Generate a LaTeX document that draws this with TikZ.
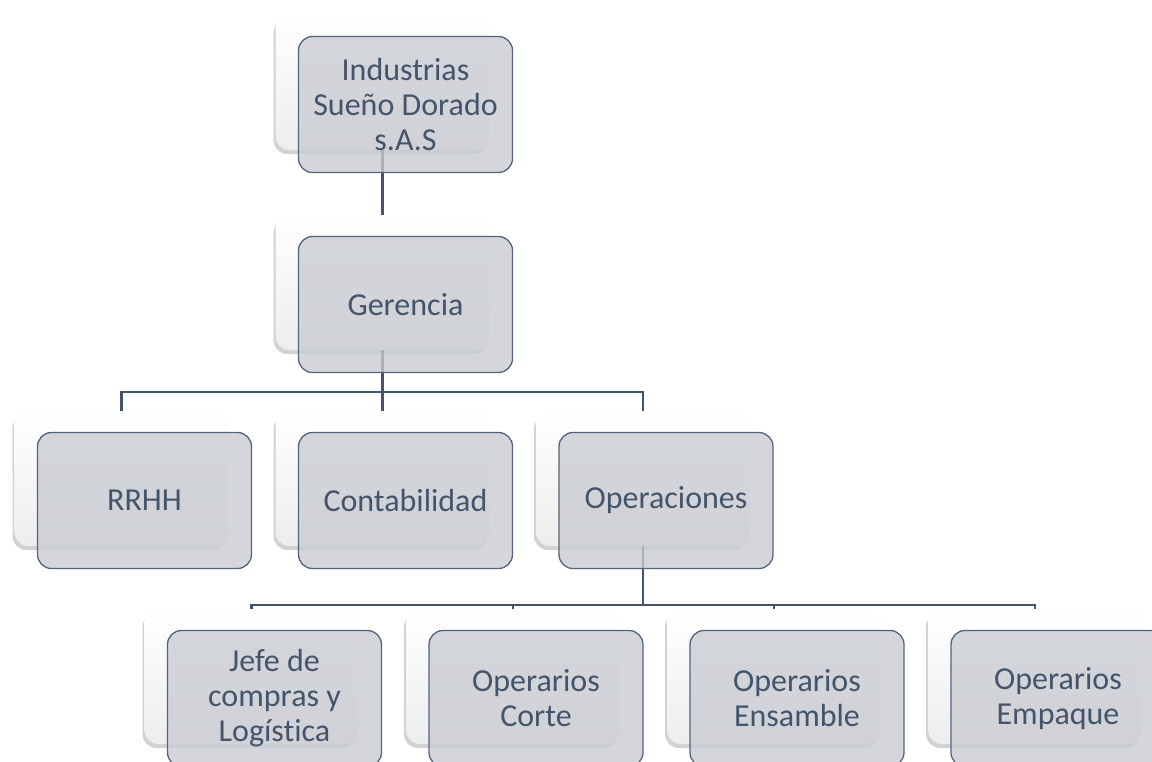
\documentclass[tikz,border=0pt]{standalone}
\usepackage{fontspec}
\setmainfont{Carlito}[Ligatures = NoCommon]
\usepackage{xcolor}
\usetikzlibrary{shadows, calc, backgrounds}
\definecolor{pizarra}{RGB}{68,84,106}
\definecolor{grisfrente}{RGB}{200,203,209}
\definecolor{bordefrente}{RGB}{84,100,124}
\newcommand{\tarjeta}[3]{
\node[fondo] (#1) at (#2) {};
\node[frente] (#1f) at ($(#1)+(23,22)$) {#3};
}

\begin{document}
\begin{tikzpicture}[x = 1pt, y = -1pt,
    fondo/.style = {rounded corners = 14pt, minimum width = 214pt, minimum height = 135pt, inner sep = 0pt,
        top color = white, middle color = white, bottom color = black!7,
        drop shadow = {shadow xshift = -2pt, shadow yshift = -4pt, opacity = 0.22, fill = black!80}},
    frente/.style = {rounded corners = 14pt, minimum width = 214pt, minimum height = 136pt, inner sep = 0pt,
        fill = grisfrente, fill opacity = 0.78, text opacity = 1, draw = bordefrente, line width = 1.3pt,
        text = pizarra, align = center, font = \fontsize{32}{35}\selectfont},
    conector/.style = {draw = pizarra, line width = 2.4pt}]
    % Margini
    \useasboundingbox (0,0) rectangle (1152,761);
    % Parametri
    \pgfmathsetmacro{\filauno}{82.5}
    \pgfmathsetmacro{\filados}{282.5}
    \pgfmathsetmacro{\filatres}{478.5}
    \pgfmathsetmacro{\filacuatro}{676.5}
    % Tarjetas
    \tarjeta{ind}{382.5,\filauno}{Industrias\\Sueño Dorado\\s.A.S}
    \tarjeta{ger}{382.5,\filados}{Gerencia}
    \tarjeta{rrhh}{121.5,\filatres}{RRHH}
    \tarjeta{cont}{382.5,\filatres}{Contabilidad}
    \tarjeta{ops}{643,\filatres}{Operaciones}
    \tarjeta{jefe}{251.5,\filacuatro}{Jefe de\\compras y\\Logística}
    \tarjeta{corte}{513,\filacuatro}{Operarios\\Corte}
    \tarjeta{ens}{774,\filacuatro}{Operarios\\Ensamble}
    \tarjeta{emp}{1035,\filacuatro}{Operarios\\Empaque}
    % Barras
    \coordinate (barra1) at (382.5,392);
    \coordinate (barra2) at (643,605);
    % Conectores
    \begin{scope}[on background layer]
        \draw[conector] (ind.south) -- (ger.north);
        \draw[conector] (ger.south) -- (barra1);
        \draw[conector] (rrhh.north) |- (barra1) -| (ops.north);
        \draw[conector] (cont.north) -- (barra1);
        \draw[conector] (ops.south) -- (barra2);
        \draw[conector] (jefe.north) |- (barra2) -| (emp.north);
        \draw[conector] (corte.north) -- (corte.north |- barra2);
        \draw[conector] (ens.north) -- (ens.north |- barra2);
    \end{scope}
\end{tikzpicture}
\end{document}
